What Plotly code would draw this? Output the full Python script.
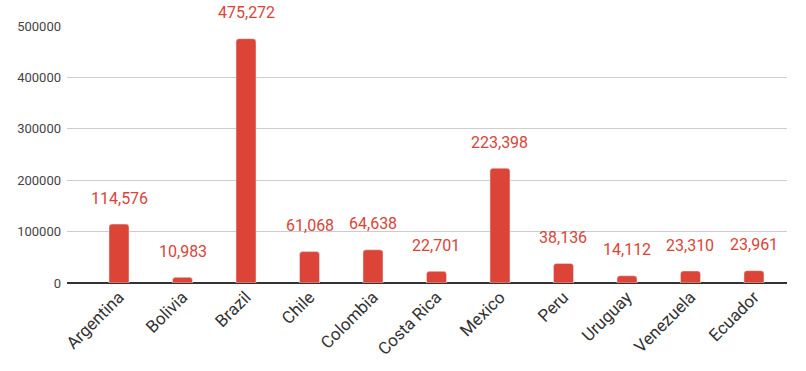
import plotly.graph_objects as go

countries = ["Argentina", "Bolivia", "Brazil", "Chile", "Colombia", "Costa Rica",
             "Mexico", "Peru", "Uruguay", "Venezuela", "Ecuador"]
values = [114576, 10983, 475272, 61068, 64638, 22701, 223398, 38136, 14112, 23310, 23961]
y_ticks = [0, 100000, 200000, 300000, 400000, 500000]

red = "#db4437"

fig = go.Figure(go.Bar(x=countries, y=values, marker_color=red, width=0.315, hoverinfo="skip"))

for c, v in zip(countries, values):
    fig.add_annotation(x=c, y=v, text=f"{v:,}", showarrow=False, yanchor="middle",
                       yshift=26, font=dict(family="Roboto", size=16, color=red))

fig.update_layout(
    width=806, height=371,
    margin=dict(l=67, r=19, t=26, b=88),
    plot_bgcolor="white", paper_bgcolor="white",
    font=dict(family="Roboto", color="#444"),
    barcornerradius=3,
    showlegend=False,
)
fig.update_xaxes(range=[-0.819, 10.52], tickangle=-45, tickfont=dict(size=17, color="#333"),
                 showgrid=False, ticks="", showline=False, automargin=False)
fig.update_yaxes(range=[0, 500000], tickvals=y_ticks, ticktext=[str(t) for t in y_ticks],
                 tickfont=dict(size=13, color="#444"), gridcolor="#cccccc",
                 zeroline=True, zerolinecolor="#333", zerolinewidth=1.3, ticks="",
                 ticklabelstandoff=5, automargin=False)
fig.write_html("out.html", config={"displayModeBar": False, "staticPlot": True})

with open("out.html", "r", encoding="utf-8") as f:
    html = f.read()
html = html.replace("<head>", "<head><style>html,body{margin:0;padding:0;overflow:hidden}</style>", 1)
with open("out.html", "w", encoding="utf-8") as f:
    f.write(html)
